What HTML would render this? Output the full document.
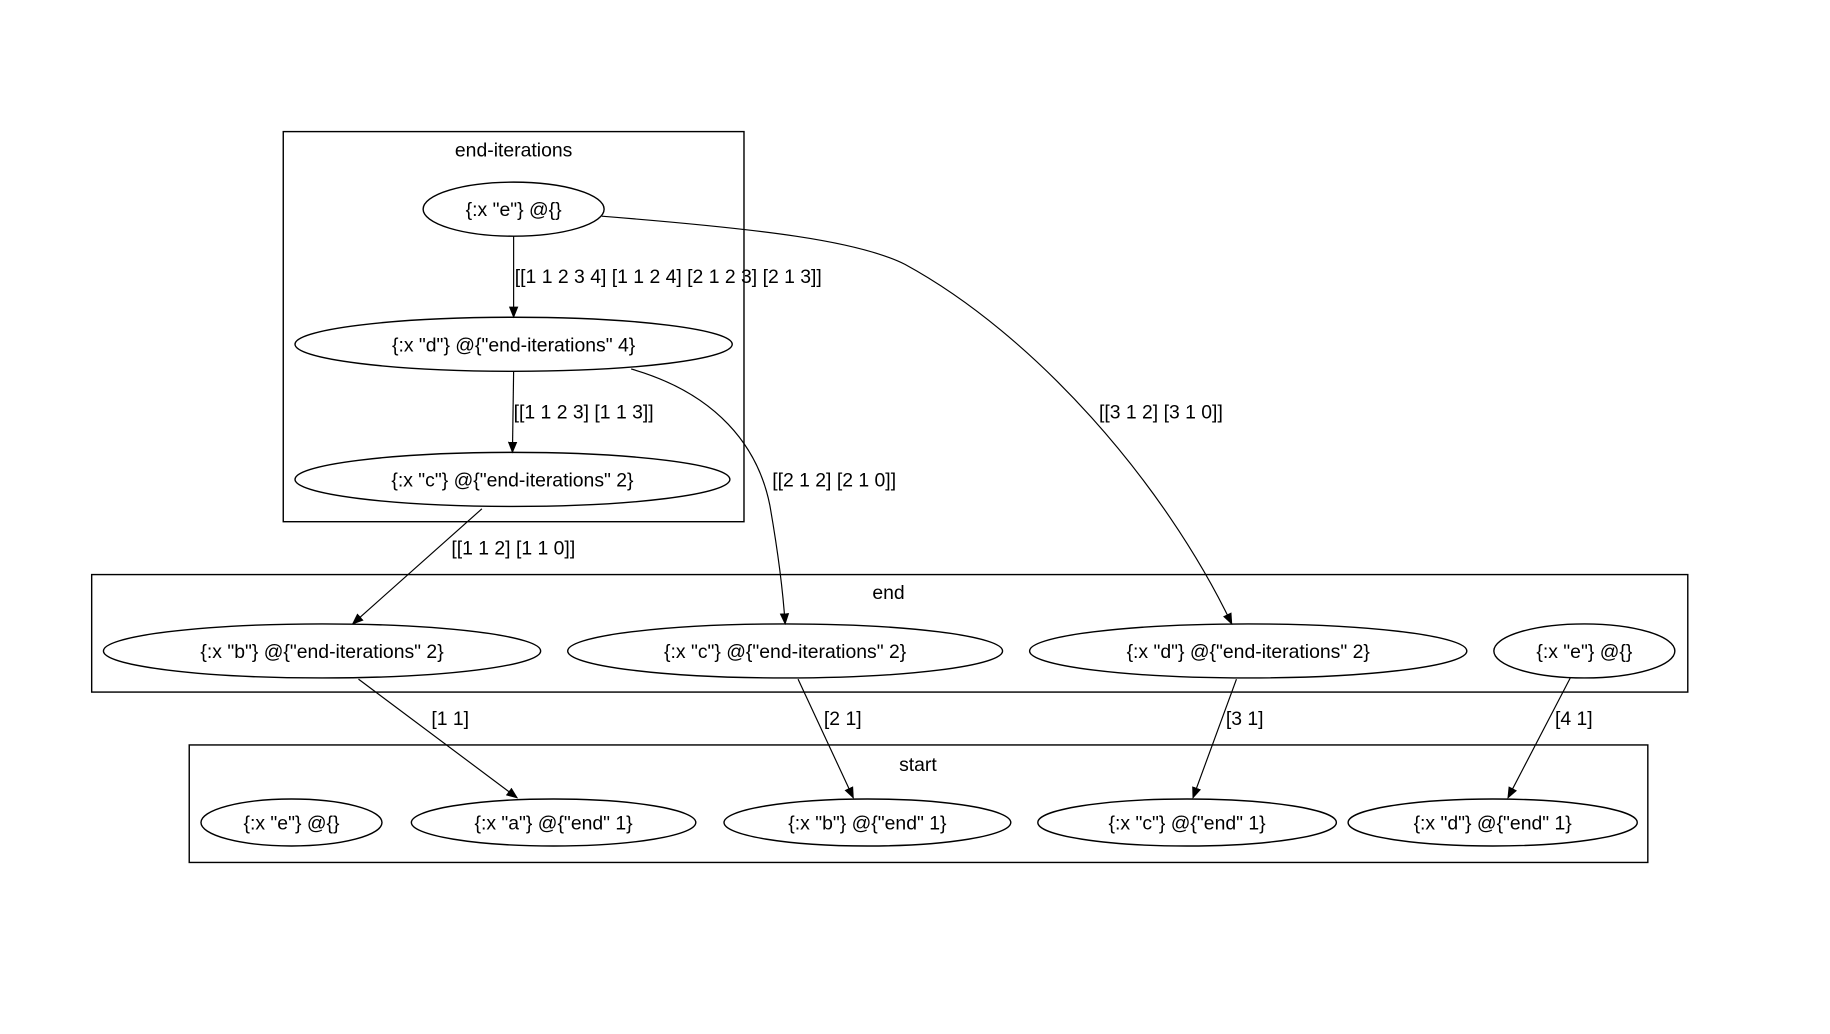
<!DOCTYPE html>
<html><head><meta charset="utf-8"><style>html,body{margin:0;padding:0;background:#fff;}svg{display:block}</style></head>
<body>
<svg width="1830" height="1034" viewBox="0 0 1557 880" preserveAspectRatio="none" xmlns="http://www.w3.org/2000/svg" font-family="Liberation Sans, sans-serif" font-size="16.5" fill="none" stroke="#000">
<defs><marker id="a" markerWidth="10" markerHeight="10" refX="9" refY="5" orient="auto" markerUnits="userSpaceOnUse"><path d="M0,1 L10,5 L0,9 z" fill="#000" stroke="none"/></marker></defs>
<g stroke-width="1.2">
<rect x="241" y="112" width="392" height="332"/>
<rect x="78" y="489" width="1358" height="100"/>
<rect x="161" y="634" width="1241" height="100"/>
<ellipse cx="437" cy="178" rx="77" ry="23"/>
<ellipse cx="437" cy="293" rx="186" ry="23"/>
<ellipse cx="436" cy="408" rx="185" ry="23"/>
<ellipse cx="274" cy="554" rx="186" ry="23"/>
<ellipse cx="668" cy="554" rx="185" ry="23"/>
<ellipse cx="1062" cy="554" rx="186" ry="23"/>
<ellipse cx="1348" cy="554" rx="77" ry="23"/>
<ellipse cx="248" cy="700" rx="77" ry="20"/>
<ellipse cx="471" cy="700" rx="121" ry="20"/>
<ellipse cx="738" cy="700" rx="122" ry="20"/>
<ellipse cx="1010" cy="700" rx="127" ry="20"/>
<ellipse cx="1270" cy="700" rx="123" ry="20"/>
</g>
<g stroke-width="1" marker-end="url(#a)">
<path d="M437,201 L437,270"/>
<path d="M437,316 L436,385"/>
<path d="M410,433 L300,531"/>
<path d="M537,314 C610,335 645,380 655,430 C662,470 666,500 668,531"/>
<path d="M512,184 C650,195 730,205 770,225 C880,285 990,410 1048,531"/>
<path d="M305,578 L440,679"/>
<path d="M679,578 L726,679"/>
<path d="M1052,578 L1015,679"/>
<path d="M1336,577 L1283,679"/>
</g>
<g fill="#000" stroke="none">
<text x="437" y="133" text-anchor="middle">end-iterations</text>
<text x="756" y="510" text-anchor="middle">end</text>
<text x="781" y="656" text-anchor="middle">start</text>
<g text-anchor="middle">
<text x="437" y="184">{:x "e"} @{}</text>
<text x="437" y="299">{:x "d"} @{"end-iterations" 4}</text>
<text x="436" y="414">{:x "c"} @{"end-iterations" 2}</text>
<text x="274" y="560">{:x "b"} @{"end-iterations" 2}</text>
<text x="668" y="560">{:x "c"} @{"end-iterations" 2}</text>
<text x="1062" y="560">{:x "d"} @{"end-iterations" 2}</text>
<text x="1348" y="560">{:x "e"} @{}</text>
<text x="248" y="706">{:x "e"} @{}</text>
<text x="471" y="706">{:x "a"} @{"end" 1}</text>
<text x="738" y="706">{:x "b"} @{"end" 1}</text>
<text x="1010" y="706">{:x "c"} @{"end" 1}</text>
<text x="1270" y="706">{:x "d"} @{"end" 1}</text>
</g>
<text x="438" y="241">[[1 1 2 3 4] [1 1 2 4] [2 1 2 3] [2 1 3]]</text>
<text x="437" y="356">[[1 1 2 3] [1 1 3]]</text>
<text x="657" y="414">[[2 1 2] [2 1 0]]</text>
<text x="935" y="356">[[3 1 2] [3 1 0]]</text>
<text x="384" y="472">[[1 1 2] [1 1 0]]</text>
<text x="367" y="617">[1 1]</text>
<text x="701" y="617">[2 1]</text>
<text x="1043" y="617">[3 1]</text>
<text x="1323" y="617">[4 1]</text>
</g>
</svg>
</body></html>
